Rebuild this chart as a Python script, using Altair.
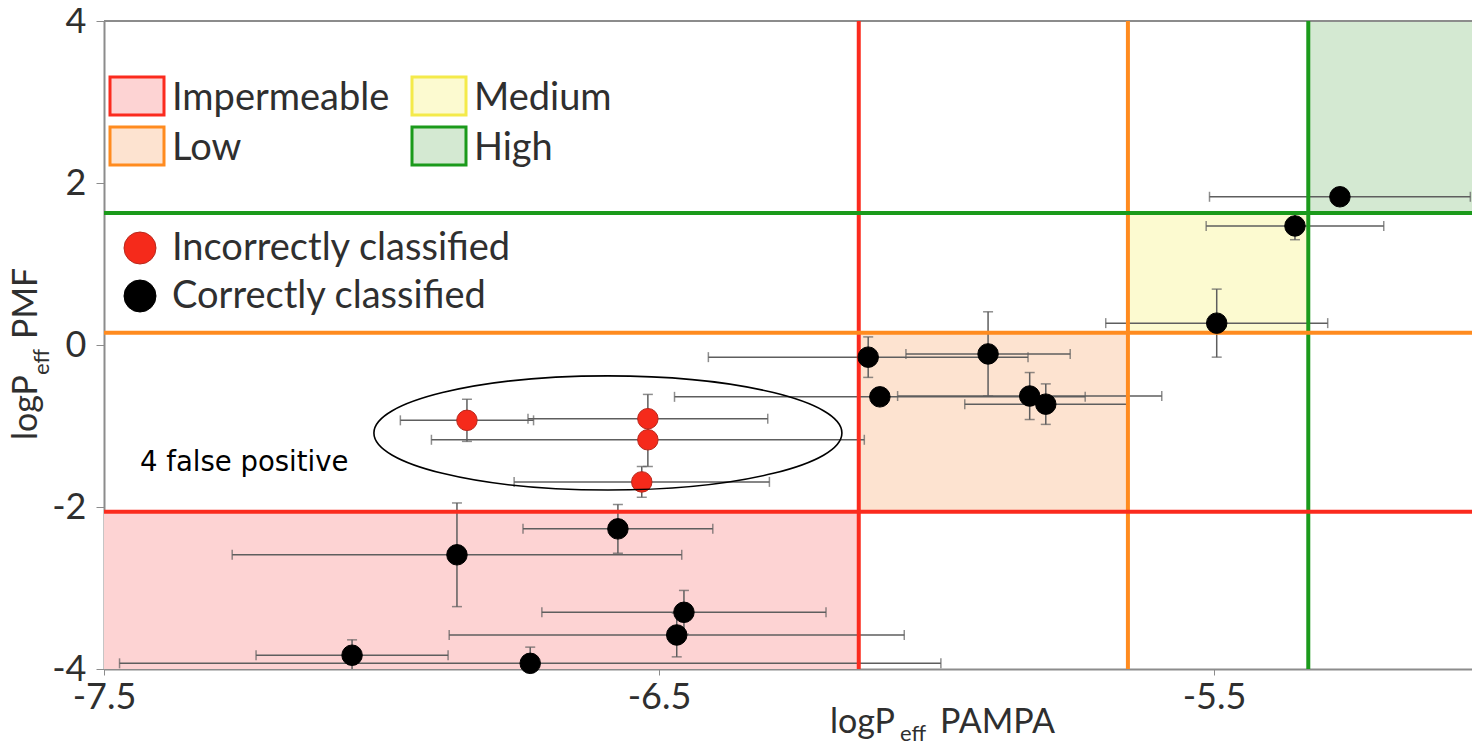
import altair as alt
import pandas as pd

# ---------------- data ----------------
classification = ["Correctly classified"] * 14 + ["Incorrectly classified"] * 4
pampa = [-5.273, -5.354, -5.495, -5.907, -6.123, -6.102, -5.832, -5.803, -6.574,
         -6.864, -6.455, -6.468, -6.732, -7.053, -6.846, -6.520, -6.520, -6.531]
pmf = [1.83, 1.47, 0.27, -0.11, -0.15, -0.64, -0.63, -0.73, -2.27,
       -2.59, -3.30, -3.58, -3.93, -3.83, -0.93, -0.91, -1.17, -1.69]
pampa_err = [0.235, 0.16, 0.20, 0.148, 0.288, 0.37, 0.238, 0.146, 0.171,
             0.405, 0.256, 0.41, 0.74, 0.173, 0.12, 0.216, 0.39, 0.23]
pmf_err = [0.0, 0.17, 0.42, 0.52, 0.25, 0.0, 0.29, 0.25, 0.30,
           0.64, 0.27, 0.27, 0.20, 0.19, 0.26, 0.30, 0.33, 0.19]

zone_names = ["Impermeable", "Low", "Medium", "High"]
zone_x1 = [-7.5, -6.14, -5.655, -5.33]
zone_x2 = [-6.14, -5.655, -5.33, -5.0]
zone_y1 = [-4.0, -2.06, 0.15, 1.63]
zone_y2 = [-2.06, 0.15, 1.63, 4.0]
zone_fill = ["#fdd3d3", "#fde3d0", "#fcfad0", "#d4e9d2"]
zone_stroke = ["#fb2b1e", "#ff8b1f", "#f4ea4a", "#1b9a1b"]

cut_names = ["Impermeable", "Low", "High"]
cut_x = [-6.14, -5.655, -5.33]
cut_y = [-2.06, 0.15, 1.63]
cut_color = ["#fb2b1e", "#ff8b1f", "#1b9a1b"]

x_ticks = [-7.5, -6.5, -5.5]
y_ticks = [-4, -2, 0, 2, 4]

# ---------------- tables ----------------
pts = pd.DataFrame({"cls": classification, "x": pampa, "y": pmf,
                    "xe": pampa_err, "ye": pmf_err})
pts["xlo"] = pts["x"] - pts["xe"]
pts["xhi"] = pts["x"] + pts["xe"]
pts["ylo"] = pts["y"] - pts["ye"]
pts["yhi"] = pts["y"] + pts["ye"]
zones = pd.DataFrame({"zone": zone_names, "x1": zone_x1, "x2": zone_x2,
                      "y1": zone_y1, "y2": zone_y2, "fill": zone_fill})
cuts = pd.DataFrame({"zone": cut_names, "cx": cut_x, "cy": cut_y, "col": cut_color})

W, H = 1368, 648
FONT = "Lato"
TXT = "#2f2f2f"
GREY = "#8c8c8c"

xs = alt.Scale(domain=[-7.5, -5.035], nice=False, zero=False)
ys = alt.Scale(domain=[-4, 4], nice=False, zero=False)

x_axis = alt.Axis(values=x_ticks, title=None, grid=False, labelFont=FONT, labelFontSize=36,
                  labelColor=TXT, labelFlush=False, labelOverlap=False, tickSize=6,
                  labelPadding=5, domainColor=GREY, domainWidth=2, tickColor=GREY,
                  labelExpr="(datum.value < 0 ? '-' : '') + format(abs(datum.value), '.1f')")
y_axis = alt.Axis(values=y_ticks, title=None, grid=False, labelFont=FONT, labelFontSize=36,
                  labelColor=TXT, tickSize=8, labelPadding=10, domainColor=GREY,
                  domainWidth=2, tickColor=GREY,
                  labelExpr="(datum.value < 0 ? '-' : '') + format(abs(datum.value), 'd')")

base = alt.Chart(pts)

zone_layer = alt.Chart(zones).mark_rect(clip=True).encode(
    x=alt.X("x1:Q", scale=xs, axis=x_axis), x2="x2:Q",
    y=alt.Y("y1:Q", scale=ys, axis=y_axis), y2="y2:Q",
    fill=alt.Fill("fill:N", scale=None))

top_border = alt.Chart(zones).mark_rule(color=GREY, strokeWidth=2).encode(y=alt.datum(4))

xerr = base.mark_errorbar(ticks=True, size=10, thickness=1.5, color="#5e5e5e", clip=True).encode(
    x=alt.X("xlo:Q"), x2="xhi:Q", y=alt.Y("y:Q"))
yerr = base.transform_filter("datum.ye > 0").mark_errorbar(
    ticks=True, size=10, thickness=1.5, color="#5e5e5e", clip=True).encode(
    y=alt.Y("ylo:Q"), y2="yhi:Q", x=alt.X("x:Q"))

vlines = alt.Chart(cuts).mark_rule(strokeWidth=4).encode(
    x="cx:Q", color=alt.Color("col:N", scale=None))
hlines = alt.Chart(cuts).mark_rule(strokeWidth=4).encode(
    y="cy:Q", color=alt.Color("col:N", scale=None))

points = base.mark_point(filled=True, size=420, opacity=1, strokeWidth=1).encode(
    x="x:Q", y="y:Q",
    fill=alt.Fill("cls:N", scale=alt.Scale(domain=["Correctly classified", "Incorrectly classified"],
                                           range=["#000000", "#f52a1b"]), legend=None),
    stroke=alt.Stroke("cls:N", scale=alt.Scale(domain=["Correctly classified", "Incorrectly classified"],
                                               range=["#000000", "#b8281c"]), legend=None))

one = pd.DataFrame({"a": [0]})
ellipse_path = "M -1 0 A 1 0.244 0 1 0 1 0 A 1 0.244 0 1 0 -1 0 Z"
ellipse = alt.Chart(one).mark_point(shape=ellipse_path, size=468 * 468, filled=False,
                                    stroke="black", strokeWidth=1.6, opacity=1).encode(
    x=alt.datum(-6.592), y=alt.datum(-1.086))
note = alt.Chart(one).mark_text(text="4 false positive", font="DejaVu Sans", fontSize=27.5,
                                align="left", baseline="alphabetic", color="black").encode(
    x=alt.datum(-7.435), y=alt.datum(-1.556))

layers = [zone_layer, top_border, xerr, yerr, vlines, hlines, points, ellipse, note]


def txt(s, px, py, size=38, angle=None, font=FONT, color=TXT):
    kw = dict(text=s, font=font, fontSize=size, align="left", baseline="alphabetic", color=color)
    if angle is not None:
        kw["angle"] = angle
    return alt.Chart(one).mark_text(**kw).encode(x=alt.value(px), y=alt.value(py))


# legend: permeability classes (two columns)
leg_pos = {"Impermeable": (6, 56), "Low": (6, 106), "Medium": (308, 56), "High": (308, 106)}
for name, f, s in zip(zone_names, zone_fill, zone_stroke):
    lx, ly = leg_pos[name]
    layers.append(alt.Chart(one).mark_rect(fill=f, stroke=s, strokeWidth=3).encode(
        x=alt.value(lx), x2=alt.value(lx + 54), y=alt.value(ly), y2=alt.value(ly + 38)))
    layers.append(txt(name, lx + 62, ly + 33))

# legend: classification markers
for name, f, s, cy in [("Incorrectly classified", "#f52a1b", "#b8281c", 227),
                       ("Correctly classified", "#000000", "#000000", 275)]:
    layers.append(alt.Chart(one).mark_point(filled=True, shape="circle", size=1024, fill=f,
                                            stroke=s, strokeWidth=1, opacity=1).encode(
        x=alt.value(36), y=alt.value(cy)))
    layers.append(txt(name, 68, cy + 12))

# axis titles with subscripts
layers += [txt("logP", 726, 712, 34), txt("eff", 796, 720, 22), txt("PAMPA", 836, 712, 34)]
layers += [txt("logP", -67, 419, 34, angle=270), txt("eff", -55, 354, 22, angle=270),
           txt("PMF", -67, 318, 34, angle=270)]

chart = alt.layer(*layers).properties(
    width=W, height=H,
    autosize=alt.AutoSizeParams(type="none"),
    padding={"left": 96, "top": 13, "right": 0, "bottom": 75},
).configure_view(stroke=None)

chart.save("out.html", embed_options={"renderer": "svg", "actions": False})
